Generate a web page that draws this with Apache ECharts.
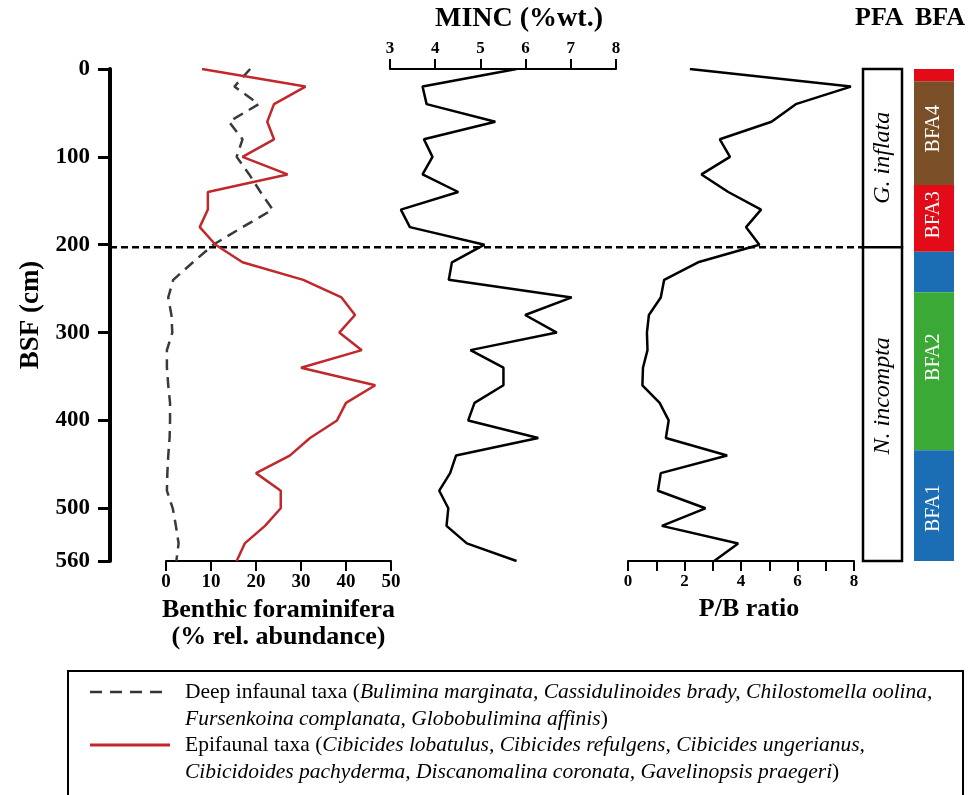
<!DOCTYPE html>
<html><head><meta charset="utf-8">
<script src="https://cdn.jsdelivr.net/npm/echarts@6/dist/echarts.min.js"></script>
<style>html,body{margin:0;padding:0;background:#fff}#c{width:977px;height:795px}</style>
</head><body><div id="c"></div>
<script>
// ---- data ----
const depths = [0,20,40,60,80,100,120,140,160,180,200,220,240,260,280,300,320,340,360,380,400,420,440,460,480,500,520,540,560];
const deepInfaunal = [18.7,15.2,20.6,14,17,15.7,18.5,21,23.7,17,10.5,6,1.6,0.5,1.2,1.4,0.2,0.2,0.5,0.9,0.9,0.8,0.5,0.3,0.2,1.5,2.2,2.8,2.3];
const epifaunal = [8,31,24,22.5,24,17,27,9.3,9.3,7.5,11,17,30.5,39,42,38.5,43.5,30,46.5,40,38,32,27.5,20,25.5,25.5,22,17.5,15.7];
const minc = [5.8,3.72,3.81,5.33,3.75,3.94,3.72,4.51,3.24,3.44,5.09,4.37,4.3,7.02,5.99,6.69,4.78,5.51,5.51,4.87,4.73,6.28,4.46,4.33,4.09,4.29,4.25,4.7,5.8];
const pbRatio = [2.19,7.89,5.94,5.08,3.25,3.61,2.6,3.55,4.71,4.18,4.65,2.48,1.28,1.16,0.74,0.67,0.69,0.53,0.51,1.12,1.44,1.34,3.51,1.16,1.06,2.74,1.2,3.9,3.05];
const boundaryDepth = 203;
const pfaTop = [0, 203];
const pfaBottom = [203, 560];
const pfaName = ['G. inflata', 'N. incompta'];
const pfaLabelDepth = [101, 372];
const bfaTop = [0, 14, 132, 208, 254, 434];
const bfaBottom = [14, 132, 208, 254, 434, 560];
const bfaAssoc = ['BFA3', 'BFA4', 'BFA3', 'BFA1', 'BFA2', 'BFA1'];
const bfaLabel = ['', 'BFA4', 'BFA3', '', 'BFA2', 'BFA1'];
const bfaLabelDepth = [null, 68, 166, null, 328, 500];

// ---- styles ----
const FONT = 'Liberation Serif';
const bfaColors = {BFA1: '#1b6db4', BFA2: '#3ba935', BFA3: '#e30b17', BFA4: '#7a4e27'};
const RED = '#c0282b';

const chart = echarts.init(document.getElementById('c'), null, {renderer: 'canvas'});
const T = 69, H = 492;
const grids = [
  {left: 166, top: T, width: 225, height: H},
  {left: 390, top: T, width: 226, height: H},
  {left: 628, top: T, width: 226, height: H},
  {left: 863, top: T, width: 39, height: H},
  {left: 914, top: T, width: 40, height: H},
  {left: 110, top: T, width: 753, height: H}
];
const hiddenY = i => ({type: 'value', gridIndex: i, min: 0, max: 560, inverse: true, show: false});
const hiddenX = i => ({type: 'value', gridIndex: i, min: 0, max: 1, show: false});
const axisLbl = (size) => ({fontFamily: FONT, fontWeight: 'bold', fontSize: size, color: '#000'});

const option = {
  animation: false,
  backgroundColor: '#fff',
  grid: grids,
  xAxis: [
    {type: 'value', gridIndex: 0, min: 0, max: 50, interval: 10, position: 'bottom',
      axisLine: {show: true, onZero: false, lineStyle: {color: '#000', width: 2}},
      axisTick: {show: true, length: 10, lineStyle: {color: '#000', width: 2}},
      axisLabel: Object.assign({margin: 12}, axisLbl(19)),
      splitLine: {show: false},
      name: 'Benthic foraminifera\n(% rel. abundance)', nameLocation: 'middle', nameGap: 33,
      nameTextStyle: {fontFamily: FONT, fontWeight: 'bold', fontSize: 26, color: '#000', lineHeight: 27}},
    {type: 'value', gridIndex: 1, min: 3, max: 8, interval: 1, position: 'top',
      axisLine: {show: true, onZero: false, lineStyle: {color: '#000', width: 2}},
      axisTick: {show: true, length: 10, lineStyle: {color: '#000', width: 2}},
      axisLabel: Object.assign({margin: 12}, axisLbl(17)),
      splitLine: {show: false},
      name: 'MINC (%wt.)', nameLocation: 'middle', nameGap: 36,
      nameTextStyle: {fontFamily: FONT, fontWeight: 'bold', fontSize: 28, color: '#000', padding: [0, 0, 0, 32]}},
    {type: 'value', gridIndex: 2, min: 0, max: 8, interval: 1, position: 'bottom',
      axisLine: {show: true, onZero: false, lineStyle: {color: '#000', width: 2}},
      axisTick: {show: true, length: 10, lineStyle: {color: '#000', width: 2}},
      axisLabel: Object.assign({margin: 12, formatter: v => (v % 2 === 0 ? String(v) : '')}, axisLbl(17)),
      splitLine: {show: false},
      name: 'P/B ratio', nameLocation: 'middle', nameGap: 35,
      nameTextStyle: {fontFamily: FONT, fontWeight: 'bold', fontSize: 26, color: '#000', padding: [0, 0, 0, 16]}},
    hiddenX(3), hiddenX(4), hiddenX(5)
  ],
  yAxis: [
    {type: 'value', gridIndex: 0, min: 0, max: 560, interval: 100, inverse: true, position: 'left', offset: 56,
      axisLine: {show: true, onZero: false, lineStyle: {color: '#000', width: 4}},
      axisTick: {show: true, length: 12, lineStyle: {color: '#000', width: 3}},
      axisLabel: Object.assign({margin: 20}, axisLbl(23)),
      splitLine: {show: false},
      name: 'BSF (cm)', nameLocation: 'middle', nameGap: 65, nameRotate: 90,
      nameTextStyle: {fontFamily: FONT, fontWeight: 'bold', fontSize: 27, color: '#000'}},
    hiddenY(1), hiddenY(2), hiddenY(3), hiddenY(4), hiddenY(5)
  ],
  graphic: [
    {type: 'text', left: 855, top: 5, style: {text: 'PFA', font: 'bold 26px ' + FONT, fill: '#000'}},
    {type: 'text', left: 915, top: 5, style: {text: 'BFA', font: 'bold 26px ' + FONT, fill: '#000'}},
    {type: 'rect', shape: {x: 68, y: 671, width: 895, height: 150}, style: {fill: 'none', stroke: '#000', lineWidth: 2}},
    {type: 'line', shape: {x1: 90, y1: 692, x2: 170, y2: 692}, style: {stroke: '#333', lineWidth: 2.5, lineDash: [12, 8]}},
    {type: 'line', shape: {x1: 90, y1: 745, x2: 170, y2: 745}, style: {stroke: RED, lineWidth: 3}},
    {type: 'text', x: 185, y: 679, style: {
      text: '{n|Deep infaunal taxa (}{i|Bulimina marginata, Cassidulinoides brady, Chilostomella oolina,}\n{i|Fursenkoina complanata, Globobulimina affinis}{n|)}\n{n|Epifaunal taxa (}{i|Cibicides lobatulus, Cibicides refulgens, Cibicides ungerianus,}\n{i|Cibicidoides pachyderma, Discanomalina coronata, Gavelinopsis praegeri}{n|)}',
      rich: {
        n: {fontFamily: FONT, fontSize: 21.5, fill: '#000', lineHeight: 26.7},
        i: {fontFamily: FONT, fontSize: 21.5, fontStyle: 'italic', fill: '#000', lineHeight: 26.7}
      }
    }}
  ],
  series: [
    {type: 'line', xAxisIndex: 0, yAxisIndex: 0, symbol: 'none', silent: true,
      data: depths.map((d, i) => [deepInfaunal[i], d]),
      lineStyle: {color: '#3a3a3a', width: 2.5, type: [11, 7]}},
    {type: 'line', xAxisIndex: 0, yAxisIndex: 0, symbol: 'none', silent: true,
      data: depths.map((d, i) => [epifaunal[i], d]),
      lineStyle: {color: RED, width: 2.5}},
    {type: 'line', xAxisIndex: 1, yAxisIndex: 1, symbol: 'none', silent: true,
      data: depths.map((d, i) => [minc[i], d]),
      lineStyle: {color: '#000', width: 2.5}},
    {type: 'line', xAxisIndex: 2, yAxisIndex: 2, symbol: 'none', silent: true,
      data: depths.map((d, i) => [pbRatio[i], d]),
      lineStyle: {color: '#000', width: 2.5}},
    {type: 'custom', xAxisIndex: 3, yAxisIndex: 3, silent: true,
      data: pfaTop.map((t, i) => [t, pfaBottom[i], i]),
      renderItem: (params, api) => {
        const p0 = api.coord([0, api.value(0)]);
        const p1 = api.coord([1, api.value(1)]);
        const i = api.value(2);
        const pl = api.coord([0.5, pfaLabelDepth[i]]);
        return {type: 'group', children: [
          {type: 'rect', shape: {x: p0[0], y: p0[1], width: p1[0] - p0[0], height: p1[1] - p0[1]},
            style: {fill: '#fff', stroke: '#000', lineWidth: 2.5}},
          {type: 'text', x: pl[0], y: pl[1], rotation: Math.PI / 2,
            style: {text: pfaName[i], font: 'italic 24px ' + FONT, fill: '#000', align: 'center', verticalAlign: 'middle'}}
        ]};
      }},
    {type: 'custom', xAxisIndex: 4, yAxisIndex: 4, silent: true,
      data: bfaTop.map((t, i) => [t, bfaBottom[i], i]),
      renderItem: (params, api) => {
        const p0 = api.coord([0, api.value(0)]);
        const p1 = api.coord([1, api.value(1)]);
        const i = api.value(2);
        const children = [
          {type: 'rect', shape: {x: p0[0], y: p0[1], width: p1[0] - p0[0], height: p1[1] - p0[1]},
            style: {fill: bfaColors[bfaAssoc[i]]}}
        ];
        if (bfaLabel[i]) {
          const pl = api.coord([0.5, bfaLabelDepth[i]]);
          children.push({type: 'text', x: pl[0], y: pl[1], rotation: Math.PI / 2,
            style: {text: bfaLabel[i], font: '20px ' + FONT, fill: '#fff', align: 'center', verticalAlign: 'middle'}});
        }
        return {type: 'group', children};
      }},
    {type: 'line', xAxisIndex: 5, yAxisIndex: 5, symbol: 'none', silent: true, z: 1,
      data: [[0, boundaryDepth], [1, boundaryDepth]],
      lineStyle: {color: '#000', width: 2.5, type: [7, 4]}}
  ]
};
chart.setOption(option);
</script>
</body></html>
